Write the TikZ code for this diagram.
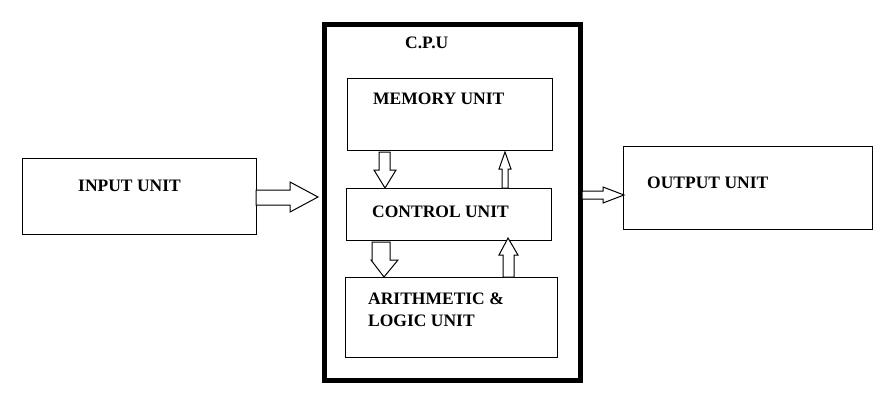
\documentclass[tikz,border=0pt]{standalone}
\usepackage{fontspec}
\setmainfont{Liberation Serif}
\begin{document}
\begin{tikzpicture}[x=1pt,y=-1pt,
  box/.style={draw,line width=1pt},
  lbl/.style={anchor=base west,font=\fontsize{17.5}{20}\selectfont\bfseries,inner sep=0},
  barrow/.style={draw,line width=1pt,fill=white}]
\useasboundingbox (0,0) rectangle (891,400);
\node[box,minimum width=256,minimum height=356,line width=5pt,anchor=north west] (cpu) at (322,22) {};
\node[box,minimum width=205,minimum height=72,anchor=north west] (mem) at (347,78) {};
\node[box,minimum width=205,minimum height=52,anchor=north west] (ctl) at (346,188) {};
\node[box,minimum width=212,minimum height=80,anchor=north west] (alu) at (345,277) {};
\node[box,minimum width=234,minimum height=76,anchor=north west] (in) at (22,158) {};
\node[box,minimum width=249,minimum height=83,anchor=north west] (out) at (623,146) {};
\node[lbl] (t0) at (405,48) {C.P.U};
\node[lbl] (t1) at (373,104) {MEMORY UNIT};
\node[lbl] (t2) at (78,191) {INPUT UNIT};
\node[lbl] (t3) at (372,217) {CONTROL UNIT};
\node[lbl] (t4) at (368,304) {ARITHMETIC \&};
\node[lbl] (t5) at (368,326) {LOGIC UNIT};
\node[lbl] (t6) at (647,188) {OUTPUT UNIT};
% input -> cpu
\draw[barrow] (256,190) -- (290,190) -- (290,182) -- (318,197) -- (290,212) -- (290,205) -- (256,205) -- cycle;
% cpu -> output
\draw[barrow] (582,191) -- (603,191) -- (603,187) -- (624,195) -- (603,203) -- (603,199) -- (582,199) -- cycle;
% mem -> ctl
\draw[barrow] (379,152) -- (390,152) -- (390,170) -- (396,170) -- (385,188) -- (374,170) -- (379,170) -- cycle;
% ctl -> mem
\draw[barrow] (502,188) -- (508,188) -- (508,169) -- (511,169) -- (505,152) -- (499,169) -- (502,169) -- cycle;
% ctl -> alu
\draw[barrow] (372,242) -- (390,242) -- (390,260) -- (398,260) -- (384,277) -- (371,260) -- (372,260) -- cycle;
% alu -> ctl
\draw[barrow] (503,277) -- (514,277) -- (514,255) -- (518,255) -- (508,238) -- (499,255) -- (503,255) -- cycle;
\end{tikzpicture}
\end{document}
